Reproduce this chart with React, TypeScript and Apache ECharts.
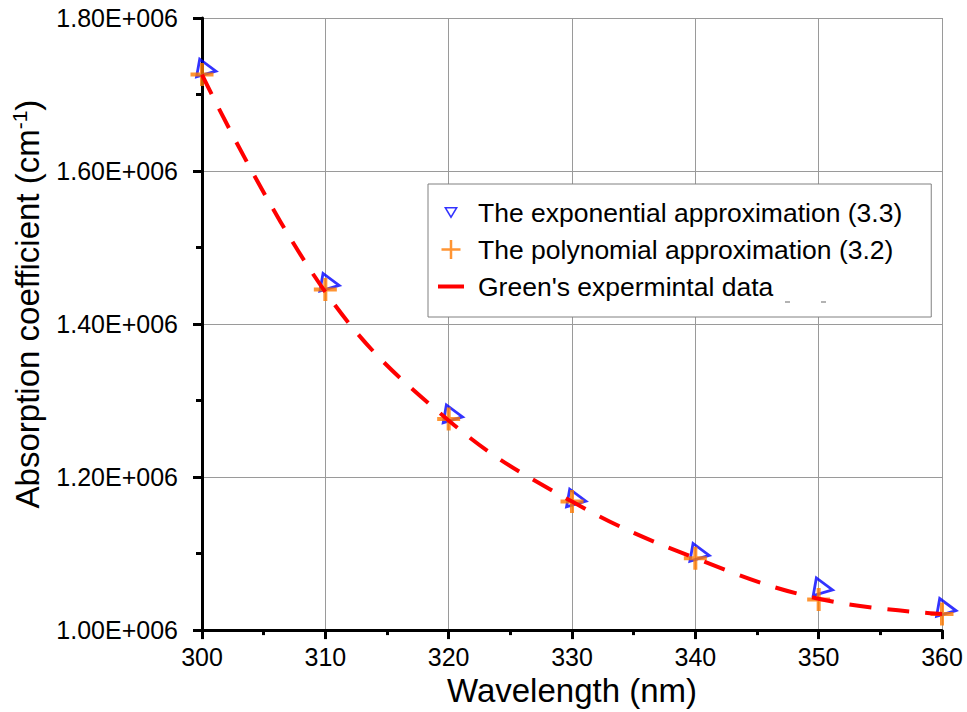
import React, { useEffect, useRef } from "react";
import * as echarts from "echarts";

// Wavelength grid (nm)
const wavelengths = [300, 310, 320, 330, 340, 350, 360];

// Absorption coefficient (cm^-1)
const exponentialApprox = [1.730e6, 1.450e6, 1.278e6, 1.168e6, 1.097e6, 1.052e6, 1.025e6];
const polynomialApprox = [1.726e6, 1.445e6, 1.276e6, 1.168e6, 1.094e6, 1.040e6, 1.021e6];
const greenData = [1.726e6, 1.442e6, 1.274e6, 1.168e6, 1.094e6, 1.041e6, 1.021e6];

const seriesNames = [
  "The exponential approximation (3.3)",
  "The polynomial approximation (3.2)",
  "Green's expermintal data",
];

const FONT = "'Liberation Sans', Arial, sans-serif";

const pairs = (ys: number[]) => wavelengths.map((x, i) => [x, ys[i]]);

// open "+" marker
const crossSymbol = "path://M0,10L20,10M10,0L10,20";
// downward open triangle for the legend, padded so it sits smaller in the icon box
const legendTriangle = "path://M-4,-5M16,15M0,0L12,0L6,10Z";
// short solid bar for the line entry of the legend
const legendBar = "path://M0,0L26,0L26,4L0,4Z";

export default function App() {
  const ref = useRef<HTMLDivElement>(null);

  useEffect(() => {
    if (!ref.current) return;
    const chart = echarts.init(ref.current, null, { renderer: "svg" });
    chart.setOption({
      animation: false,
      backgroundColor: "#ffffff",
      textStyle: { fontFamily: FONT },
      grid: { left: 202, right: 25, top: 18, bottom: 81 },
      xAxis: {
        type: "value",
        min: 300,
        max: 360,
        interval: 10,
        name: "Wavelength (nm)",
        nameLocation: "middle",
        nameGap: 43,
        nameTextStyle: { fontSize: 33, color: "#000", fontFamily: FONT },
        axisLine: { show: true, onZero: false, lineStyle: { color: "#000", width: 3 } },
        axisTick: { show: true, length: 9, lineStyle: { color: "#000", width: 3 } },
        minorTick: { show: true, splitNumber: 2, length: 5, lineStyle: { color: "#000", width: 3 } },
        splitLine: { show: true, lineStyle: { color: "#9a9a9a", width: 1 } },
        axisLabel: { fontSize: 25, color: "#000", margin: 14, fontFamily: FONT },
      },
      yAxis: {
        type: "value",
        min: 1.0e6,
        max: 1.8e6,
        interval: 2e5,
        name: "Absorption coefficient (cm{sup|-1})",
        nameLocation: "middle",
        nameGap: 157,
        nameTextStyle: {
          fontSize: 33,
          color: "#000",
          fontFamily: FONT,
          padding: [0, 0, 0, 40],
          rich: {
            sup: { fontSize: 21, color: "#000", fontFamily: FONT, padding: [0, 0, 15, 0] },
          },
        },
        axisLine: { show: true, onZero: false, lineStyle: { color: "#000", width: 3 } },
        axisTick: { show: true, length: 9, lineStyle: { color: "#000", width: 3 } },
        minorTick: { show: true, splitNumber: 2, length: 6, lineStyle: { color: "#000", width: 3 } },
        splitLine: { show: true, lineStyle: { color: "#9a9a9a", width: 1 } },
        axisLabel: {
          fontSize: 25,
          color: "#000",
          margin: 24,
          fontFamily: FONT,
          formatter: (v: number) => (v / 1e6).toFixed(2) + "E+006",
        },
      },
      legend: {
        orient: "vertical",
        left: 428,
        top: 184,
        padding: [15, 29, 17, 10],
        itemGap: 10,
        itemWidth: 26,
        itemHeight: 19,
        selectedMode: false,
        backgroundColor: "#ffffff",
        borderColor: "#808080",
        borderWidth: 1,
        borderRadius: 0,
        textStyle: { fontSize: 26.5, color: "#000", fontFamily: FONT, padding: [0, 0, 0, 9] },
        data: [
          {
            name: seriesNames[0],
            icon: legendTriangle,
            symbolRotate: 0,
            itemStyle: { color: "rgba(0,0,0,0)", borderColor: "#0000ff", borderWidth: 1.5 },
          },
          {
            name: seriesNames[1],
            icon: crossSymbol,
            symbolRotate: 0,
            itemStyle: { color: "rgba(0,0,0,0)", borderColor: "#ff7a00", borderWidth: 2.5 },
          },
          {
            name: seriesNames[2],
            icon: legendBar,
            symbolRotate: 0,
            itemStyle: { color: "#ff0000", borderWidth: 0 },
          },
        ],
      },
      graphic: [
        {
          type: "line",
          z: 100,
          shape: { x1: 785, y1: 302, x2: 790, y2: 302 },
          style: { stroke: "#9a9a9a", lineWidth: 1.5 },
        },
        {
          type: "line",
          z: 100,
          shape: { x1: 821, y1: 302, x2: 826, y2: 302 },
          style: { stroke: "#9a9a9a", lineWidth: 1.5 },
        },
      ],
      series: [
        {
          name: seriesNames[0],
          type: "scatter",
          data: pairs(exponentialApprox),
          symbol: "triangle",
          symbolSize: 18,
          symbolRotate: -100,
          symbolOffset: [5, -2],
          itemStyle: { color: "rgba(0,0,0,0)", borderColor: "#0000ff", borderWidth: 2.8 },
          emphasis: { disabled: true },
          z: 2,
        },
        {
          name: seriesNames[1],
          type: "scatter",
          data: pairs(polynomialApprox),
          symbol: crossSymbol,
          symbolSize: 23,
          itemStyle: { color: "rgba(0,0,0,0)", borderColor: "#ff7a00", borderWidth: 4 },
          emphasis: { disabled: true },
          z: 3,
        },
        {
          name: seriesNames[2],
          type: "line",
          data: pairs(greenData),
          smooth: 0.4,
          symbol: "none",
          showSymbol: false,
          lineStyle: { color: "#ff0000", width: 4, type: [22, 16] },
          itemStyle: { color: "#ff0000" },
          emphasis: { disabled: true },
          z: 4,
        },
      ],
    });
    return () => chart.dispose();
  }, []);

  return (
    <div
      ref={ref}
      style={{ position: "fixed", left: 0, top: 0, width: 967, height: 712, background: "#fff" }}
    />
  );
}
